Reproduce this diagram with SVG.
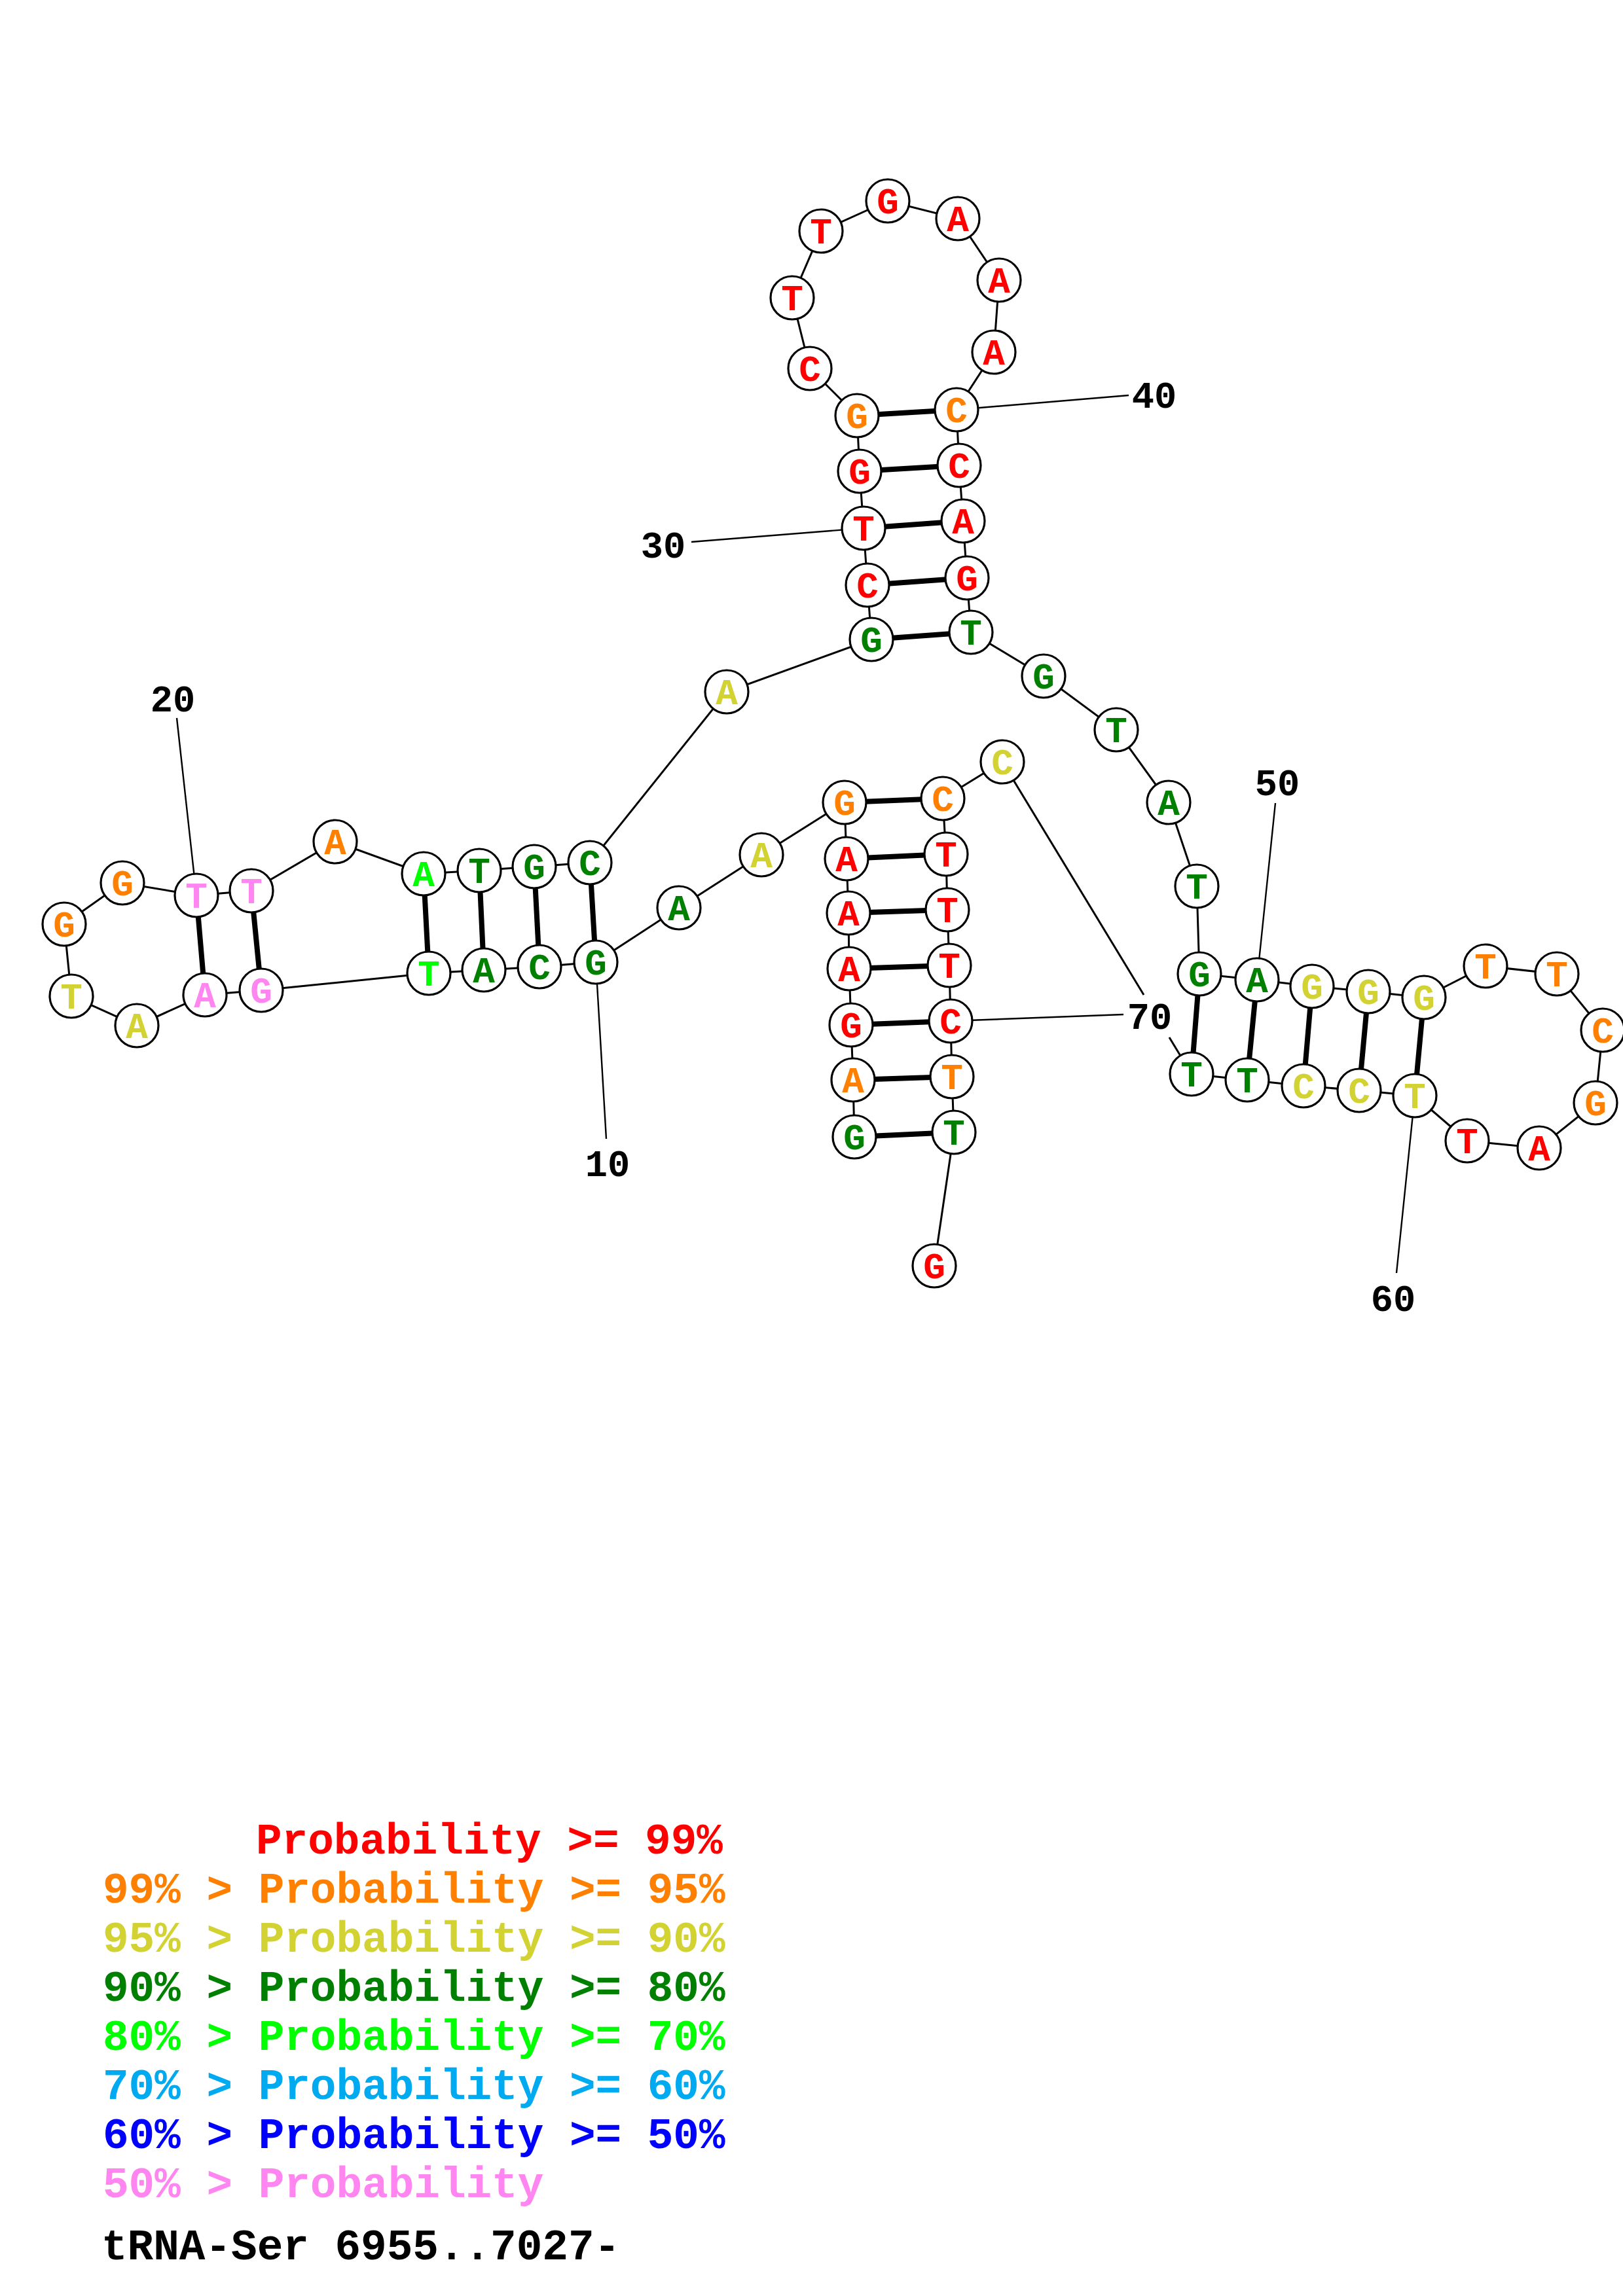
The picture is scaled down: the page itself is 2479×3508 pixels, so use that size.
<svg xmlns="http://www.w3.org/2000/svg" width="2479" height="3508" viewBox="0 0 2479 3508">
<style>
.bb{fill:none;stroke:#000;stroke-width:3}
.bp{stroke:#000;stroke-width:8}
.ld{stroke:#000;stroke-width:2.4}
.nd circle{fill:#fff;stroke:#000;stroke-width:3.2}
.nd text{font-family:"Liberation Mono",monospace;font-weight:bold;font-size:56px;text-anchor:middle}
.lb{font-family:"Liberation Mono",monospace;font-weight:bold;font-size:57px;text-anchor:middle;fill:#000}
.lg{font-family:"Liberation Mono",monospace;font-weight:bold;font-size:66px}
.r{fill:#ff0000}.o{fill:#ff8000}.y{fill:#d2d232}.g{fill:#008000}.G{fill:#00ff00}.b{fill:#00aaf0}.B{fill:#0000ff}.p{fill:#ff85f0}.k{fill:#000}
</style>
<rect width="2479" height="3508" fill="#fff"/>
<g id="connectors">
<polyline class="bb" points="1305,1737 1303,1650 1300,1566 1297,1480 1296,1395 1293,1312 1290,1226 1163,1306 1037,1387 910,1470 824,1477 739,1482 655,1487 399,1513 313,1520 209,1567 109,1522 98,1412 187,1349 300,1368 384,1361 512,1286 647,1335 732,1330 816,1324 901,1318 1110,1057 1331,977 1325,894 1319,807 1313,720 1309,635 1237,563 1210,455 1254,353 1356,307 1463,334 1526,428 1518,538 1461,626 1465,711 1471,796 1477,883 1483,966 1594,1033 1705,1115 1785,1226 1828,1354 1832,1488 1920,1497 2004,1507 2090,1515 2175,1524 2269,1476 2378,1488 2448,1574 2437,1685 2351,1754 2241,1743 2161,1674 2076,1666 1991,1659 1905,1650 1820,1641"/>
<line class="bb" x1="1820" y1="1641" x2="1786" y2="1585"/>
<line class="bb" x1="1747" y1="1520" x2="1531" y2="1164"/>
<polyline class="bb" points="1531,1164 1440,1220 1445,1305 1447,1390 1450,1475 1452,1560 1454,1645 1457,1730 1427,1934"/>
<line class="bp" x1="1305" y1="1737" x2="1457" y2="1730"/>
<line class="bp" x1="1303" y1="1650" x2="1454" y2="1645"/>
<line class="bp" x1="1300" y1="1566" x2="1452" y2="1560"/>
<line class="bp" x1="1297" y1="1480" x2="1450" y2="1475"/>
<line class="bp" x1="1296" y1="1395" x2="1447" y2="1390"/>
<line class="bp" x1="1293" y1="1312" x2="1445" y2="1305"/>
<line class="bp" x1="1290" y1="1226" x2="1440" y2="1220"/>
<line class="bp" x1="910" y1="1470" x2="901" y2="1318"/>
<line class="bp" x1="824" y1="1477" x2="816" y2="1324"/>
<line class="bp" x1="739" y1="1482" x2="732" y2="1330"/>
<line class="bp" x1="655" y1="1487" x2="647" y2="1335"/>
<line class="bp" x1="399" y1="1513" x2="384" y2="1361"/>
<line class="bp" x1="313" y1="1520" x2="300" y2="1368"/>
<line class="bp" x1="1331" y1="977" x2="1483" y2="966"/>
<line class="bp" x1="1325" y1="894" x2="1477" y2="883"/>
<line class="bp" x1="1319" y1="807" x2="1471" y2="796"/>
<line class="bp" x1="1313" y1="720" x2="1465" y2="711"/>
<line class="bp" x1="1309" y1="635" x2="1461" y2="626"/>
<line class="bp" x1="1832" y1="1488" x2="1820" y2="1641"/>
<line class="bp" x1="1920" y1="1497" x2="1905" y2="1650"/>
<line class="bp" x1="2004" y1="1507" x2="1991" y2="1659"/>
<line class="bp" x1="2090" y1="1515" x2="2076" y2="1666"/>
<line class="bp" x1="2175" y1="1524" x2="2161" y2="1674"/>
<line class="ld" x1="910" y1="1470" x2="926" y2="1740"/>
<line class="ld" x1="300" y1="1368" x2="270" y2="1097"/>
<line class="ld" x1="1319" y1="807" x2="1056" y2="828"/>
<line class="ld" x1="1461" y1="626" x2="1724" y2="604"/>
<line class="ld" x1="1920" y1="1497" x2="1948" y2="1227"/>
<line class="ld" x1="2161" y1="1674" x2="2133" y2="1945"/>
<line class="ld" x1="1452" y1="1560" x2="1716" y2="1550"/>
</g>
<g id="n1" class="nd"><circle cx="1305" cy="1737" r="33"/><text x="1305" y="1756" class="g">G</text></g>
<g id="n2" class="nd"><circle cx="1303" cy="1650" r="33"/><text x="1303" y="1669" class="o">A</text></g>
<g id="n3" class="nd"><circle cx="1300" cy="1566" r="33"/><text x="1300" y="1585" class="r">G</text></g>
<g id="n4" class="nd"><circle cx="1297" cy="1480" r="33"/><text x="1297" y="1499" class="r">A</text></g>
<g id="n5" class="nd"><circle cx="1296" cy="1395" r="33"/><text x="1296" y="1414" class="r">A</text></g>
<g id="n6" class="nd"><circle cx="1293" cy="1312" r="33"/><text x="1293" y="1331" class="r">A</text></g>
<g id="n7" class="nd"><circle cx="1290" cy="1226" r="33"/><text x="1290" y="1245" class="o">G</text></g>
<g id="n8" class="nd"><circle cx="1163" cy="1306" r="33"/><text x="1163" y="1325" class="y">A</text></g>
<g id="n9" class="nd"><circle cx="1037" cy="1387" r="33"/><text x="1037" y="1406" class="g">A</text></g>
<g id="n10" class="nd"><circle cx="910" cy="1470" r="33"/><text x="910" y="1489" class="g">G</text></g>
<g id="n11" class="nd"><circle cx="824" cy="1477" r="33"/><text x="824" y="1496" class="g">C</text></g>
<g id="n12" class="nd"><circle cx="739" cy="1482" r="33"/><text x="739" y="1501" class="g">A</text></g>
<g id="n13" class="nd"><circle cx="655" cy="1487" r="33"/><text x="655" y="1506" class="G">T</text></g>
<g id="n14" class="nd"><circle cx="399" cy="1513" r="33"/><text x="399" y="1532" class="p">G</text></g>
<g id="n15" class="nd"><circle cx="313" cy="1520" r="33"/><text x="313" y="1539" class="p">A</text></g>
<g id="n16" class="nd"><circle cx="209" cy="1567" r="33"/><text x="209" y="1586" class="y">A</text></g>
<g id="n17" class="nd"><circle cx="109" cy="1522" r="33"/><text x="109" y="1541" class="y">T</text></g>
<g id="n18" class="nd"><circle cx="98" cy="1412" r="33"/><text x="98" y="1431" class="o">G</text></g>
<g id="n19" class="nd"><circle cx="187" cy="1349" r="33"/><text x="187" y="1368" class="o">G</text></g>
<g id="n20" class="nd"><circle cx="300" cy="1368" r="33"/><text x="300" y="1387" class="p">T</text></g>
<g id="n21" class="nd"><circle cx="384" cy="1361" r="33"/><text x="384" y="1380" class="p">T</text></g>
<g id="n22" class="nd"><circle cx="512" cy="1286" r="33"/><text x="512" y="1305" class="o">A</text></g>
<g id="n23" class="nd"><circle cx="647" cy="1335" r="33"/><text x="647" y="1354" class="G">A</text></g>
<g id="n24" class="nd"><circle cx="732" cy="1330" r="33"/><text x="732" y="1349" class="g">T</text></g>
<g id="n25" class="nd"><circle cx="816" cy="1324" r="33"/><text x="816" y="1343" class="g">G</text></g>
<g id="n26" class="nd"><circle cx="901" cy="1318" r="33"/><text x="901" y="1337" class="g">C</text></g>
<g id="n27" class="nd"><circle cx="1110" cy="1057" r="33"/><text x="1110" y="1076" class="y">A</text></g>
<g id="n28" class="nd"><circle cx="1331" cy="977" r="33"/><text x="1331" y="996" class="g">G</text></g>
<g id="n29" class="nd"><circle cx="1325" cy="894" r="33"/><text x="1325" y="913" class="r">C</text></g>
<g id="n30" class="nd"><circle cx="1319" cy="807" r="33"/><text x="1319" y="826" class="r">T</text></g>
<g id="n31" class="nd"><circle cx="1313" cy="720" r="33"/><text x="1313" y="739" class="r">G</text></g>
<g id="n32" class="nd"><circle cx="1309" cy="635" r="33"/><text x="1309" y="654" class="o">G</text></g>
<g id="n33" class="nd"><circle cx="1237" cy="563" r="33"/><text x="1237" y="582" class="r">C</text></g>
<g id="n34" class="nd"><circle cx="1210" cy="455" r="33"/><text x="1210" y="474" class="r">T</text></g>
<g id="n35" class="nd"><circle cx="1254" cy="353" r="33"/><text x="1254" y="372" class="r">T</text></g>
<g id="n36" class="nd"><circle cx="1356" cy="307" r="33"/><text x="1356" y="326" class="r">G</text></g>
<g id="n37" class="nd"><circle cx="1463" cy="334" r="33"/><text x="1463" y="353" class="r">A</text></g>
<g id="n38" class="nd"><circle cx="1526" cy="428" r="33"/><text x="1526" y="447" class="r">A</text></g>
<g id="n39" class="nd"><circle cx="1518" cy="538" r="33"/><text x="1518" y="557" class="r">A</text></g>
<g id="n40" class="nd"><circle cx="1461" cy="626" r="33"/><text x="1461" y="645" class="o">C</text></g>
<g id="n41" class="nd"><circle cx="1465" cy="711" r="33"/><text x="1465" y="730" class="r">C</text></g>
<g id="n42" class="nd"><circle cx="1471" cy="796" r="33"/><text x="1471" y="815" class="r">A</text></g>
<g id="n43" class="nd"><circle cx="1477" cy="883" r="33"/><text x="1477" y="902" class="r">G</text></g>
<g id="n44" class="nd"><circle cx="1483" cy="966" r="33"/><text x="1483" y="985" class="g">T</text></g>
<g id="n45" class="nd"><circle cx="1594" cy="1033" r="33"/><text x="1594" y="1052" class="g">G</text></g>
<g id="n46" class="nd"><circle cx="1705" cy="1115" r="33"/><text x="1705" y="1134" class="g">T</text></g>
<g id="n47" class="nd"><circle cx="1785" cy="1226" r="33"/><text x="1785" y="1245" class="g">A</text></g>
<g id="n48" class="nd"><circle cx="1828" cy="1354" r="33"/><text x="1828" y="1373" class="g">T</text></g>
<g id="n49" class="nd"><circle cx="1832" cy="1488" r="33"/><text x="1832" y="1507" class="g">G</text></g>
<g id="n50" class="nd"><circle cx="1920" cy="1497" r="33"/><text x="1920" y="1516" class="g">A</text></g>
<g id="n51" class="nd"><circle cx="2004" cy="1507" r="33"/><text x="2004" y="1526" class="y">G</text></g>
<g id="n52" class="nd"><circle cx="2090" cy="1515" r="33"/><text x="2090" y="1534" class="y">G</text></g>
<g id="n53" class="nd"><circle cx="2175" cy="1524" r="33"/><text x="2175" y="1543" class="y">G</text></g>
<g id="n54" class="nd"><circle cx="2269" cy="1476" r="33"/><text x="2269" y="1495" class="o">T</text></g>
<g id="n55" class="nd"><circle cx="2378" cy="1488" r="33"/><text x="2378" y="1507" class="o">T</text></g>
<g id="n56" class="nd"><circle cx="2448" cy="1574" r="33"/><text x="2448" y="1593" class="o">C</text></g>
<g id="n57" class="nd"><circle cx="2437" cy="1685" r="33"/><text x="2437" y="1704" class="o">G</text></g>
<g id="n58" class="nd"><circle cx="2351" cy="1754" r="33"/><text x="2351" y="1773" class="r">A</text></g>
<g id="n59" class="nd"><circle cx="2241" cy="1743" r="33"/><text x="2241" y="1762" class="r">T</text></g>
<g id="n60" class="nd"><circle cx="2161" cy="1674" r="33"/><text x="2161" y="1693" class="y">T</text></g>
<g id="n61" class="nd"><circle cx="2076" cy="1666" r="33"/><text x="2076" y="1685" class="y">C</text></g>
<g id="n62" class="nd"><circle cx="1991" cy="1659" r="33"/><text x="1991" y="1678" class="y">C</text></g>
<g id="n63" class="nd"><circle cx="1905" cy="1650" r="33"/><text x="1905" y="1669" class="g">T</text></g>
<g id="n64" class="nd"><circle cx="1820" cy="1641" r="33"/><text x="1820" y="1660" class="g">T</text></g>
<g id="n65" class="nd"><circle cx="1531" cy="1164" r="33"/><text x="1531" y="1183" class="y">C</text></g>
<g id="n66" class="nd"><circle cx="1440" cy="1220" r="33"/><text x="1440" y="1239" class="o">C</text></g>
<g id="n67" class="nd"><circle cx="1445" cy="1305" r="33"/><text x="1445" y="1324" class="r">T</text></g>
<g id="n68" class="nd"><circle cx="1447" cy="1390" r="33"/><text x="1447" y="1409" class="r">T</text></g>
<g id="n69" class="nd"><circle cx="1450" cy="1475" r="33"/><text x="1450" y="1494" class="r">T</text></g>
<g id="n70" class="nd"><circle cx="1452" cy="1560" r="33"/><text x="1452" y="1579" class="r">C</text></g>
<g id="n71" class="nd"><circle cx="1454" cy="1645" r="33"/><text x="1454" y="1664" class="o">T</text></g>
<g id="n72" class="nd"><circle cx="1457" cy="1730" r="33"/><text x="1457" y="1749" class="g">T</text></g>
<g id="n73" class="nd"><circle cx="1427" cy="1934" r="33"/><text x="1427" y="1953" class="r">G</text></g>
<g id="labels">
<text class="lb" x="928" y="1797">10</text>
<text class="lb" x="264" y="1087">20</text>
<text class="lb" x="1013" y="852">30</text>
<text class="lb" x="1763" y="623">40</text>
<text class="lb" x="1951" y="1215">50</text>
<text class="lb" x="2128" y="2003">60</text>
<text class="lb" x="1756" y="1572">70</text>
</g>
<g id="legend" class="lg">
<text x="391" y="2832" class="r">Probability &gt;= 99%</text>
<text x="157" y="2907" class="o">99% &gt; Probability &gt;= 95%</text>
<text x="157" y="2982" class="y">95% &gt; Probability &gt;= 90%</text>
<text x="157" y="3057" class="g">90% &gt; Probability &gt;= 80%</text>
<text x="157" y="3132" class="G">80% &gt; Probability &gt;= 70%</text>
<text x="157" y="3207" class="b">70% &gt; Probability &gt;= 60%</text>
<text x="157" y="3282" class="B">60% &gt; Probability &gt;= 50%</text>
<text x="157" y="3357" class="p">50% &gt; Probability</text>
<text x="155" y="3452" class="k">tRNA-Ser 6955..7027-</text>
</g>
</svg>
